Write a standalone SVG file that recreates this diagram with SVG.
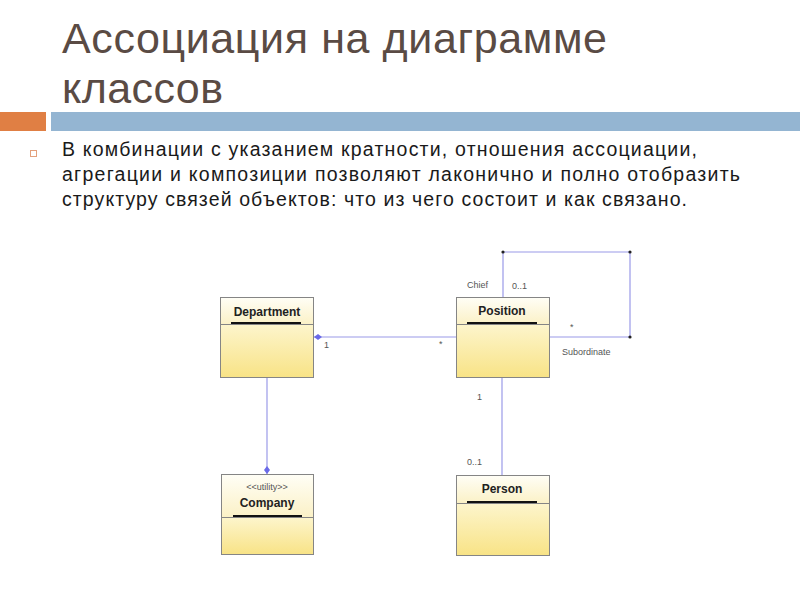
<svg xmlns="http://www.w3.org/2000/svg" width="800" height="600" viewBox="0 0 800 600">
<defs>
<linearGradient id="hdr" x1="0" y1="0" x2="0" y2="1">
<stop offset="0" stop-color="#fffef6"/>
<stop offset="1" stop-color="#fbf1c6"/>
</linearGradient>
<linearGradient id="body" x1="0" y1="0" x2="0" y2="1">
<stop offset="0" stop-color="#fdf5cc"/>
<stop offset="1" stop-color="#f8e386"/>
</linearGradient>
<style>
.title{font-family:"Liberation Sans",Arial,sans-serif;font-size:43px;fill:#5a4b44}
.txt{font-family:"Liberation Sans",Arial,sans-serif;font-size:19.5px;fill:#1a1a1a}
.box{stroke:#858585;stroke-width:1}
.h{fill:url(#hdr)}
.b{fill:url(#body)}
.name{font-family:"Liberation Sans",Arial,sans-serif;font-size:12px;font-weight:bold;fill:#222;text-anchor:middle}
.ster{font-family:"Liberation Sans",Arial,sans-serif;font-size:9px;fill:#555;text-anchor:middle}
.ul{stroke:#111;stroke-width:2.2}
.lbl{font-family:"Liberation Sans",Arial,sans-serif;font-size:9px;fill:#555}
.con{fill:none;stroke:#9a9ae8;stroke-width:1.2}
.dot{fill:#222}
.dia{fill:#6a6ae8}
</style>
</defs>
<rect width="800" height="600" fill="#fff"/>
<text class="title" x="62" y="53" textLength="545" lengthAdjust="spacing">Ассоциация на диаграмме</text>
<text class="title" x="62" y="103" textLength="161" lengthAdjust="spacing">классов</text>
<rect x="0" y="112" width="46" height="19" fill="#e07f44"/>
<rect x="51" y="112" width="749" height="19" fill="#94b5d2"/>
<rect x="30.5" y="150.5" width="6" height="6" fill="none" stroke="#e3a07c" stroke-width="1"/>
<text class="txt" x="62" y="156" textLength="635" lengthAdjust="spacing">В комбинации с указанием кратности, отношения ассоциации,</text>
<text class="txt" x="62" y="181" textLength="678" lengthAdjust="spacing">агрегации и композиции позволяют лаконично и полно отобразить</text>
<text class="txt" x="62" y="206" textLength="625" lengthAdjust="spacing">структуру связей объектов: что из чего состоит и как связано.</text>

<g id="connectors">
<polyline class="con" points="503,297 503,252 630,252 630,337 549,337"/>
<circle class="dot" cx="503" cy="252" r="1.6"/>
<circle class="dot" cx="630" cy="252" r="1.6"/>
<circle class="dot" cx="630" cy="337" r="1.6"/>
<line class="con" x1="314" y1="337" x2="456" y2="337"/>
<polygon class="dia" points="314,337 318,334 322,337 318,340"/>
<line class="con" x1="267" y1="377" x2="267" y2="474"/>
<polygon class="dia" points="267,474 264,470 267,466 270,470"/>
<line class="con" x1="502" y1="377" x2="502" y2="475"/>
<text class="lbl" x="467" y="288">Chief</text>
<text class="lbl" x="512" y="289">0..1</text>
<text class="lbl" x="570" y="330">*</text>
<text class="lbl" x="562" y="355">Subordinate</text>
<text class="lbl" x="324" y="348">1</text>
<text class="lbl" x="439" y="347">*</text>
<text class="lbl" x="477" y="400">1</text>
<text class="lbl" x="467" y="465">0..1</text>
</g>

<g id="department">
<rect class="box h" x="220.5" y="297.5" width="93" height="27"/>
<rect class="box b" x="220.5" y="324.5" width="93" height="53"/>
<text class="name" x="267" y="316">Department</text>
<line class="ul" x1="231" y1="323" x2="301" y2="323"/>
</g>

<g id="position">
<rect class="box h" x="456.5" y="297.5" width="93" height="27"/>
<rect class="box b" x="456.5" y="324.5" width="93" height="53"/>
<text class="name" x="502" y="315">Position</text>
<line class="ul" x1="467" y1="323" x2="537" y2="323"/>
</g>

<g id="company">
<rect class="box h" x="221.5" y="474.5" width="92" height="43"/>
<rect class="box b" x="221.5" y="517.5" width="92" height="37"/>
<text class="ster" x="267" y="490">&lt;&lt;utility&gt;&gt;</text>
<text class="name" x="267" y="507">Company</text>
<line class="ul" x1="233" y1="516" x2="302" y2="516"/>
</g>

<g id="person">
<rect class="box h" x="456.5" y="475.5" width="93" height="28"/>
<rect class="box b" x="456.5" y="503.5" width="93" height="52"/>
<text class="name" x="502" y="493">Person</text>
<line class="ul" x1="467" y1="502" x2="537" y2="502"/>
</g>
</svg>
